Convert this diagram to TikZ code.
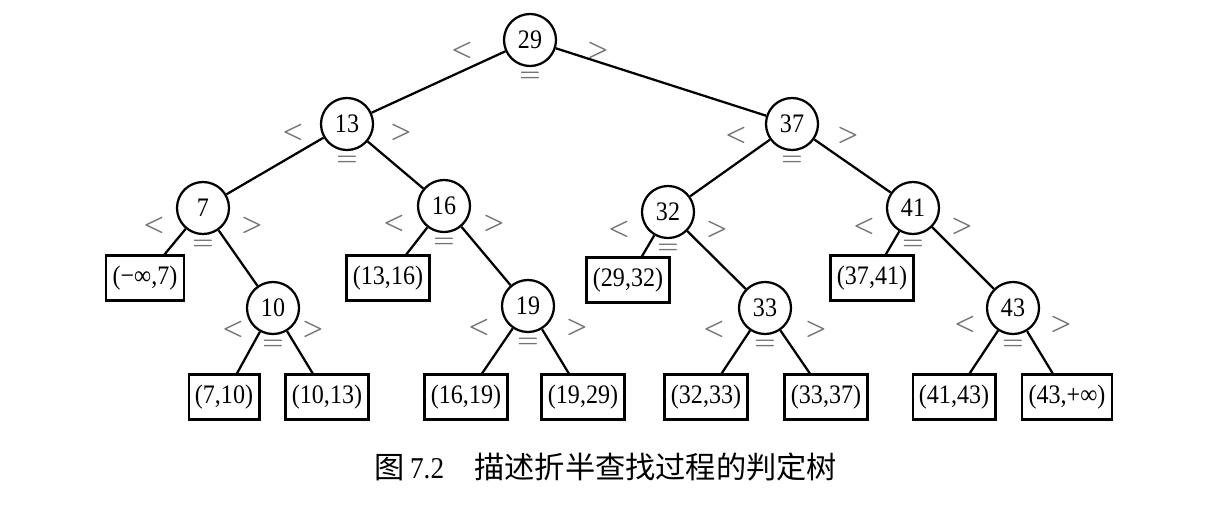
\documentclass[tikz,border=0pt]{standalone}
\usepackage{fontspec}
\setmainfont{Liberation Serif}[FakeStretch=0.9]
\newfontfamily\cjk{Noto Sans CJK SC}
\usetikzlibrary{positioning}

% styles for the decision tree
\tikzset{
  keynode/.style={circle, draw, line width=1.6pt, minimum size=1.3cm, inner sep=0pt,
    font=\fontsize{19}{22}\selectfont},
  gapnode/.style={rectangle, draw, line width=1.6pt, minimum height=1.12cm, inner xsep=4.5pt,
    font=\fontsize{19}{22}\selectfont},
  branch/.style={line width=1.6pt},
  cmpmark/.style={text=black!55, inner sep=0pt, font=\fontsize{16}{19}\selectfont\boldmath}
}

% <, = and > marks around a key node: #1 node, #2 horizontal offset, #3 vertical offset
\newcommand{\cmpmarks}[3]{%
  \node[cmpmark] (#1lt) at ([shift={(-#2,#3)}]#1) {$<$};
  \node[cmpmark] (#1gt) at ([shift={(#2,#3)}]#1) {$>$};
  \node[cmpmark] (#1eq) at ([shift={(0,37)}]#1) {$=$};
}

\begin{document}
\begin{tikzpicture}[x=0.025cm, y=-0.025cm]
  % page frame (pixel grid of the reference)
  \useasboundingbox (0,0) rectangle (1216,506);

  % key nodes (internal)
  \node[keynode] (k29) at (530,40)  {29};
  \node[keynode] (k13) at (347,124) {13};
  \node[keynode] (k37) at (792,124) {37};
  \node[keynode] (k7)  at (203,208) {7};
  \node[keynode] (k16) at (444,206) {16};
  \node[keynode] (k32) at (668,212) {32};
  \node[keynode] (k41) at (913,208) {41};
  \node[keynode] (k10) at (273,308) {10};
  \node[keynode] (k19) at (528,306) {19};
  \node[keynode] (k33) at (765,308) {33};
  \node[keynode] (k43) at (1013,308) {43};

  % gap nodes (failure leaves)
  \node[gapnode] (g0)  at (145,278) {(−∞,7)};
  \node[gapnode] (g1)  at (224,397) {(7,10)};
  \node[gapnode] (g2)  at (327,397) {(10,13)};
  \node[gapnode] (g3)  at (388,278) {(13,16)};
  \node[gapnode] (g4)  at (466,397) {(16,19)};
  \node[gapnode] (g5)  at (583,397) {(19,29)};
  \node[gapnode] (g6)  at (628,280) {(29,32)};
  \node[gapnode] (g7)  at (706,397) {(32,33)};
  \node[gapnode] (g8)  at (826,397) {(33,37)};
  \node[gapnode] (g9)  at (872,278) {(37,41)};
  \node[gapnode] (g10) at (954,397) {(41,43)};
  \node[gapnode] (g11) at (1067,397) {(43,+∞)};

  % branches
  \draw[branch] (k29) -- (k13);
  \draw[branch] (k29) -- (k37);
  \draw[branch] (k13) -- (k7);
  \draw[branch] (k13) -- (k16);
  \draw[branch] (k37) -- (k32);
  \draw[branch] (k37) -- (k41);
  \draw[branch] (k7)  -- (g0);
  \draw[branch] (k7)  -- (k10);
  \draw[branch] (k10) -- (g1);
  \draw[branch] (k10) -- (g2);
  \draw[branch] (k16) -- (g3);
  \draw[branch] (k16) -- (k19);
  \draw[branch] (k19) -- (g4);
  \draw[branch] (k19) -- (g5);
  \draw[branch] (k32) -- (g6);
  \draw[branch] (k32) -- (k33);
  \draw[branch] (k33) -- (g7);
  \draw[branch] (k33) -- (g8);
  \draw[branch] (k41) -- (g9);
  \draw[branch] (k41) -- (k43);
  \draw[branch] (k43) -- (g10);
  \draw[branch] (k43) -- (g11);

  % comparison marks
  \cmpmarks{k29}{68}{10}
  \cmpmarks{k13}{54}{8}
  \cmpmarks{k37}{56}{11}
  \cmpmarks{k7}{49}{17}
  \cmpmarks{k16}{50}{17}
  \cmpmarks{k32}{49}{17}
  \cmpmarks{k41}{49}{18}
  \cmpmarks{k10}{40}{21}
  \cmpmarks{k19}{49}{21}
  \cmpmarks{k33}{51}{21}
  \cmpmarks{k43}{48}{16}

  % caption
  \node[font=\fontsize{21.5}{25}\selectfont] (cap) at (606,467)
    {{\cjk 图}\,7.2\quad{\cjk 描述折半查找过程的判定树}};
\end{tikzpicture}
\end{document}
